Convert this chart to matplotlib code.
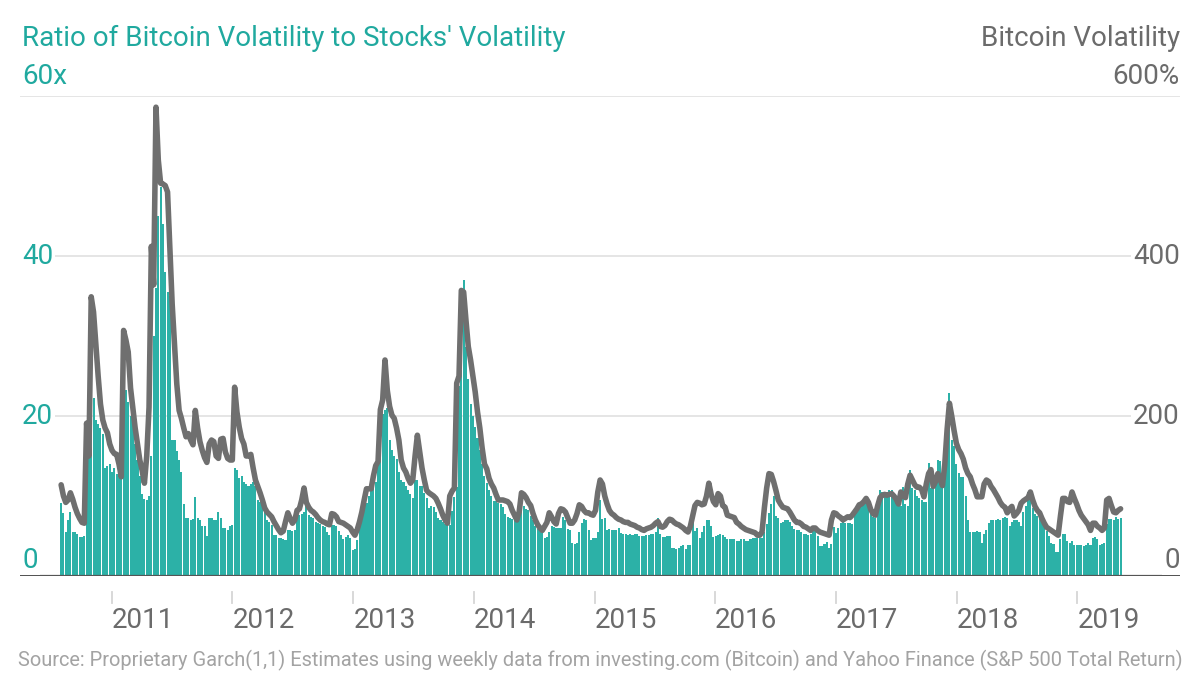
import matplotlib
matplotlib.use("Agg")
import matplotlib.pyplot as plt
import matplotlib.dates as mdates
import matplotlib.transforms as mtransforms
import pandas as pd

plt.rcParams['font.family'] = ['Roboto', 'DejaVu Sans']

# weekly estimates, first week starts 2010-08-01
ratio = [
    9.1, 7.9, 5.5, 7, 8, 5.5, 5.5, 5.2, 4.9, 4.9,
    5, 14, 15.4, 19, 22.2, 19.5, 19, 18.5, 17.8, 13.5,
    13.7, 14, 13, 13.5, 12.8, 12.6, 13.3, 22, 23.2, 21.7,
    20, 19, 16.5, 14.5, 12.5, 10.2, 9.6, 9.5, 10, 15,
    30, 36, 45, 48.6, 44, 38, 35.5, 35, 17, 17,
    15.6, 14.5, 13, 9, 7.3, 7.2, 7, 7.1, 9.9, 7.2,
    7, 6.3, 6.3, 5, 7.3, 7.3, 7, 7, 8, 7.2,
    6, 6, 5.7, 6.2, 6.4, 13.5, 13.3, 12.3, 12.5, 11.8,
    11.5, 11.3, 11.5, 11.7, 11.3, 9.5, 9.2, 9.1, 8.8, 7,
    6.8, 6.4, 5.1, 5.1, 4.8, 4.7, 4.6, 4.5, 5.75, 5.75,
    5.6, 5.75, 8.5, 7.6, 7.7, 8, 9.2, 7.6, 7.4, 7.2,
    6.8, 6.6, 6.5, 6.2, 6.1, 5.5, 5.1, 6.4, 6.4, 6.2,
    5.6, 5.1, 4.6, 4.9, 5.1, 4.8, 3.2, 3.4, 4.5, 6.3,
    7.5, 8.2, 9.1, 10, 10.7, 11.3, 11.7, 14.5, 16.5, 20.3,
    20.7, 21, 17, 15.75, 15, 14.6, 13, 12, 11.8, 11.3,
    10.75, 10.2, 9.75, 12, 12, 11.2, 11.2, 10.4, 9.8, 8.5,
    8.7, 8.6, 8, 7.2, 7, 6.8, 6.5, 6.4, 6.4, 8.1,
    9.9, 11.1, 23.7, 25.7, 37, 28.6, 24.6, 21.5, 20, 18.6,
    17.3, 15.75, 14, 12.5, 11.6, 10.7, 10, 9.4, 9.4, 9.1,
    9, 8.6, 7.8, 7.4, 7.2, 7.1, 7.3, 7.6, 8.5, 9.5,
    8.8, 8.4, 8.2, 7.5, 7, 6.3, 5.9, 5.7, 5.4, 4.8,
    4.9, 5.5, 6.2, 6.1, 6, 6, 6, 7.4, 7, 5.9,
    5.75, 4.1, 4, 4.1, 5.5, 6.6, 7.1, 7, 5.75, 4.5,
    4.75, 4.75, 5.5, 9.5, 7.1, 7.3, 5.75, 5.9, 5.75, 5.8,
    5.8, 6, 5.4, 5.2, 5.3, 5.1, 5.3, 5.1, 5.2, 5.3,
    5, 5, 5, 5.1, 5.1, 5.3, 5.3, 5.5, 7.25, 5.2,
    4.9, 4.9, 5, 5, 3.5, 3.5, 3.4, 3.5, 3.7, 3.9,
    3.4, 3.9, 3.9, 7.3, 5.6, 6, 4.75, 5.5, 6.2, 7,
    7, 6.2, 4.9, 5, 5.1, 5.2, 5.1, 4.9, 4.6, 4.6,
    4.6, 4.6, 4.4, 4.4, 4.6, 4.6, 4.4, 4.4, 4.6, 4.75,
    4.75, 4.75, 4.75, 4.75, 5.5, 6.5, 7.9, 9, 10, 7.5,
    7.3, 6.6, 6.8, 7, 7, 6.8, 6.2, 5.9, 5.75, 5.75,
    5.5, 5.3, 5.3, 5.1, 5.3, 5.9, 5.6, 5, 3.7, 3.8,
    4, 4.2, 3.5, 4, 6.1, 5.4, 6, 6.6, 7.2, 6.6,
    6.6, 6.6, 6.5, 8, 8.25, 8.7, 8.9, 9.5, 9.9, 9.2,
    8, 7.4, 7.2, 8, 10.75, 10.5, 10.4, 10.2, 10.75, 10.75,
    10.4, 9.3, 9.1, 8.8, 11.1, 9, 8.7, 13.25, 11, 10.75,
    10, 9.7, 9.5, 9.2, 9.3, 14.1, 11, 11.1, 12, 14.5,
    14.4, 11.1, 12.9, 17.9, 22.9, 17, 16.3, 14, 12.9, 12.4,
    12.4, 10, 7, 5.5, 5.5, 5.5, 5.6, 5.5, 4.1, 5.3,
    5.7, 6.6, 7, 7, 7, 7.1, 7, 7.2, 7.4, 7.2,
    6.2, 6.8, 7, 7, 6.7, 6.3, 8, 8.7, 10.5, 10,
    8.5, 7.8, 7.5, 7.2, 7, 6.2, 5.6, 5, 4.1, 4,
    3, 3, 4.6, 5.3, 5.2, 4.4, 4.1, 4.4, 3.9, 3.9,
    3.9, 3.9, 3.8, 3.9, 4.1, 3.9, 4.75, 4.9, 4.6, 3.9,
    4, 4.1, 6.5, 7.1, 7.1, 7, 7.4, 7.1, 7.2,
]

btc_vol = [
    114, 100, 92, 95, 104, 96, 86, 78, 72, 67,
    66, 191, 150, 349, 330, 290, 250, 215, 195, 185,
    179, 165, 157, 153, 152, 140, 124, 307, 295, 280,
    235, 210, 185, 165, 145, 132, 116, 150, 211, 412,
    364, 586, 520, 491, 490, 488, 480, 410, 340, 290,
    240, 207, 197, 185, 174, 178, 170, 164, 207, 185,
    168, 157, 148, 142, 165, 170, 168, 150, 147, 171,
    172, 155, 147, 145, 145, 236, 205, 186, 172, 165,
    150, 150, 152, 135, 120, 112, 104, 95, 85, 80,
    77, 74, 68, 63, 58, 54, 56, 68, 79, 72,
    66, 70, 82, 84, 95, 110, 92, 86, 82, 80,
    77, 73, 70, 68, 67, 65, 64, 78, 77, 74,
    68, 67, 66, 64, 62, 60, 55, 51, 58, 68,
    80, 95, 109, 109, 109, 125, 138, 143, 208, 220,
    270, 232, 212, 201, 197, 185, 170, 145, 135, 130,
    122, 116, 120, 150, 176, 155, 135, 120, 107, 104,
    102, 100, 97, 91, 84, 76, 70, 66, 100, 106,
    110, 241, 250, 357, 355, 320, 287, 270, 250, 230,
    205, 185, 160, 140, 134, 122, 115, 110, 102, 95,
    95, 95, 94, 93, 90, 82, 76, 70, 80, 104,
    102, 98, 92, 88, 78, 70, 64, 60, 57, 62,
    67, 79, 74, 68, 65, 78, 84, 83, 80, 73,
    66, 66, 70, 78, 89, 87, 82, 79, 79, 77,
    76, 82, 105, 120, 115, 100, 90, 82, 78, 76,
    73, 71, 70, 68, 67, 67, 65, 64, 63, 61,
    60, 58, 57, 59, 60, 61, 63, 66, 68, 62,
    61, 63, 68, 71, 70, 67, 65, 64, 62, 60,
    57, 55, 62, 75, 88, 92, 91, 89, 90, 100,
    116, 102, 93, 89, 103, 100, 88, 86, 76, 75,
    74, 73, 67, 65, 62, 60, 58, 57, 56, 55,
    54, 51, 51, 55, 85, 110, 128, 127, 118, 107,
    95, 90, 86, 85, 84, 80, 75, 70, 67, 67,
    65, 62, 61, 59, 57, 60, 60, 57, 55, 54,
    53, 52, 51, 70, 79, 78, 75, 73, 70, 72,
    74, 73, 76, 80, 84, 89, 90, 93, 97, 92,
    83, 78, 76, 88, 98, 101, 102, 101, 102, 103,
    100, 96, 90, 105, 100, 98, 115, 126, 120, 114,
    111, 111, 108, 99, 115, 128, 133, 112, 118, 128,
    121, 113, 140, 183, 216, 200, 182, 166, 158, 153,
    146, 135, 128, 124, 115, 108, 99, 99, 99, 115,
    120, 118, 112, 108, 103, 98, 92, 88, 86, 79,
    84, 87, 75, 78, 82, 91, 94, 96, 98, 105,
    95, 87, 82, 79, 72, 66, 61, 59, 57, 55,
    53, 51, 75, 97, 97, 93, 92, 105, 97, 90,
    82, 76, 72, 68, 64, 57, 66, 66, 62, 60,
    57, 60, 95, 97, 88, 80, 79, 82, 84,
]

years = [2011, 2012, 2013, 2014, 2015, 2016, 2017, 2018, 2019]
left_labels = ["0", "20", "40", "60x"]
right_labels = ["0", "200", "400", "600%"]

weeks = pd.date_range("2010-08-01", periods=len(ratio), freq="7D")

TEAL = "#20a99f"
BAR = "#2cb1a7"
GRAY = "#6b6b6b"
LINE = "#6f6f6f"
FS = 20

W, H = 1200, 676
fig = plt.figure(figsize=(12, 6.76), dpi=100)
ax = fig.add_axes([20 / W, 100 / H, 1160 / W, 480 / H])
ax2 = ax.twinx()

jan2011 = mdates.date2num(pd.Timestamp("2011-01-01"))
px_days = 365.25 / 120.7
ax.set_xlim(jan2011 - 91.7 * px_days, jan2011 + 1068.3 * px_days)
ax.set_ylim(0, 60)
ax2.set_ylim(0, 600)

for v in (20, 40, 60):
    ax.axhline(v, color="#e3e3e3", lw=1.3, zorder=0)

ax.bar(weeks, ratio, width=6.2, color=BAR, linewidth=0, zorder=2)
ax.axhline(0, color="#555555", lw=1.6, zorder=3)
ax2.plot(weeks, btc_vol, color=LINE, lw=4.0, solid_joinstyle="round",
         solid_capstyle="round", zorder=4)

for a in (ax, ax2):
    for s in a.spines.values():
        s.set_visible(False)
    a.set_xticks([])
    a.set_yticks([])

# value labels, nudged like the original layout (0 sits above the baseline,
# the top label sits above the top gridline)
blend_l = mtransforms.blended_transform_factory(ax.transAxes, ax.transData)
left_pos = [2.0, 20.0, 39.9, 62.5]
for v, lab in zip(left_pos, left_labels):
    ax.text(2 / 1160, v, lab, transform=blend_l, ha="left", va="center",
            fontsize=FS, color=TEAL, zorder=5,
            bbox=dict(facecolor="white", edgecolor="none", pad=1.5))
blend_r = mtransforms.blended_transform_factory(ax2.transAxes, ax2.transData)
right_pos = [20, 200, 399, 625]
for v, lab in zip(right_pos, right_labels):
    ax2.text(1.0, v, lab, transform=blend_r, ha="right", va="center",
             fontsize=FS, color=GRAY, zorder=5,
             bbox=dict(facecolor="white", edgecolor="none", pad=1.5))

blend_x = mtransforms.blended_transform_factory(ax.transData, ax.transAxes)
for y in years:
    xd = mdates.date2num(pd.Timestamp(f"{y}-01-01"))
    ax.plot([xd, xd], [-16 / 480, -27 / 480], transform=blend_x,
            color="#d5d5d5", lw=1.3, clip_on=False)
    ax.text(xd, -44 / 480, str(y), transform=blend_x, ha="left", va="center",
            fontsize=FS, color=GRAY)

fig.text(22 / W, 1 - 38 / H, "Ratio of Bitcoin Volatility to Stocks' Volatility",
         ha="left", va="center", fontsize=FS, color=TEAL)
fig.text(1180 / W, 1 - 38 / H, "Bitcoin Volatility",
         ha="right", va="center", fontsize=FS, color=GRAY)
fig.text(18 / W, 1 - 660 / H,
         "Source: Proprietary Garch(1,1) Estimates using weekly data from investing.com "
         "(Bitcoin) and Yahoo Finance (S&P 500 Total Return)",
         ha="left", va="center", fontsize=14.4, color="#a3a3a3")

fig.savefig("out.png", dpi=100)
